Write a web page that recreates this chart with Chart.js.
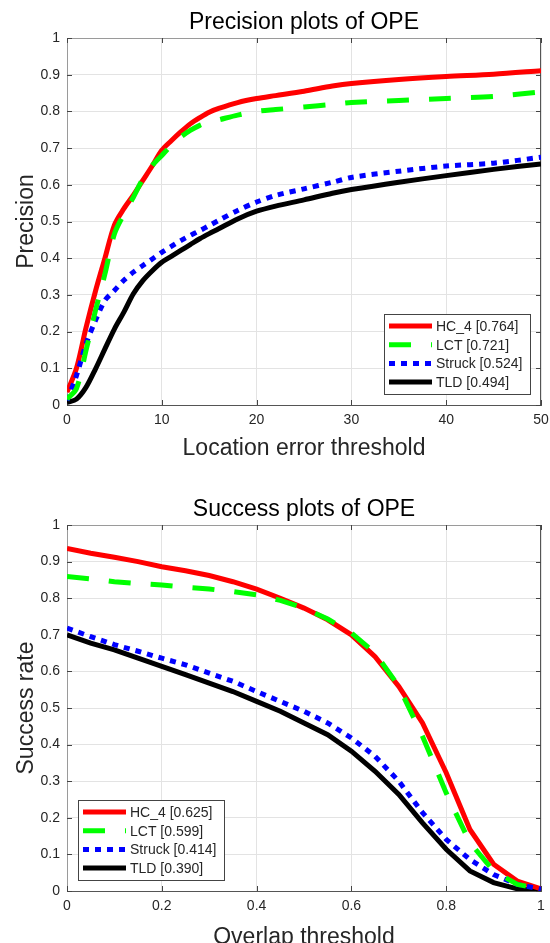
<!DOCTYPE html>
<html>
<head>
<meta charset="utf-8">
<script src="https://cdn.jsdelivr.net/npm/chart.js@4.4.0/dist/chart.umd.min.js"></script>
<style>
    html, body { margin: 0; padding: 0; background: #fff; overflow: hidden; }
    .caja { position: absolute; left: 0; width: 550px; }
    #caja1 { top: 0; height: 470px; }
    #caja2 { top: 470px; height: 490px; }
</style>
</head>
<body>
<div class="caja" id="caja1"><canvas id="graficoPrecision"></canvas></div>
<div class="caja" id="caja2"><canvas id="graficoExito"></canvas></div>
<script>
// datos

// precision - umbral de error de ubicacion (px)
var umbralesError = [0, 1, 2, 3, 4, 5, 6, 7, 8, 9, 10, 11, 12, 13, 14, 15, 16, 18, 20, 22, 25, 28, 30, 35, 40, 45, 50];
var precisionHC4 = [0.035, 0.10, 0.21, 0.31, 0.40, 0.49, 0.535, 0.572, 0.612, 0.652, 0.694, 0.72, 0.744, 0.766, 0.783, 0.798, 0.808, 0.824, 0.835, 0.843, 0.855, 0.869, 0.876, 0.887, 0.895, 0.901, 0.911];
var precisionLCT = [0.016, 0.045, 0.148, 0.257, 0.357, 0.466, 0.52, 0.566, 0.616, 0.653, 0.68, 0.707, 0.73, 0.748, 0.762, 0.771, 0.777, 0.79, 0.80, 0.805, 0.812, 0.819, 0.824, 0.83, 0.835, 0.841, 0.853];
var precisionStruck = [0.012, 0.08, 0.166, 0.23, 0.285, 0.312, 0.34, 0.362, 0.38, 0.398, 0.416, 0.432, 0.448, 0.462, 0.475, 0.489, 0.503, 0.53, 0.553, 0.571, 0.589, 0.607, 0.62, 0.637, 0.651, 0.659, 0.675];
var precisionTLD = [0.007, 0.016, 0.048, 0.098, 0.153, 0.207, 0.253, 0.303, 0.339, 0.366, 0.389, 0.405, 0.421, 0.437, 0.453, 0.467, 0.48, 0.507, 0.528, 0.542, 0.559, 0.577, 0.587, 0.607, 0.625, 0.642, 0.657];
var etiquetasPrecision = ['HC_4 [0.764]', 'LCT [0.721]', 'Struck [0.524]', 'TLD [0.494]'];

// exito - umbral de solapamiento
var umbralesSolape = [0, 0.05, 0.1, 0.15, 0.2, 0.25, 0.3, 0.35, 0.4, 0.45, 0.5, 0.55, 0.6, 0.65, 0.7, 0.75, 0.8, 0.85, 0.9, 0.95, 1];
var exitoHC4 = [0.936, 0.923, 0.912, 0.9, 0.886, 0.875, 0.862, 0.845, 0.825, 0.80, 0.773, 0.741, 0.70, 0.64, 0.559, 0.459, 0.323, 0.168, 0.073, 0.027, 0.006];
var exitoLCT = [0.859, 0.853, 0.845, 0.84, 0.836, 0.83, 0.825, 0.818, 0.809, 0.794, 0.773, 0.743, 0.705, 0.65, 0.559, 0.423, 0.268, 0.132, 0.055, 0.018, 0.005];
var exitoStruck = [0.718, 0.695, 0.673, 0.655, 0.636, 0.618, 0.595, 0.573, 0.545, 0.518, 0.491, 0.459, 0.418, 0.368, 0.30, 0.214, 0.141, 0.086, 0.045, 0.018, 0.005];
var exitoTLD = [0.70, 0.677, 0.659, 0.636, 0.614, 0.591, 0.568, 0.545, 0.518, 0.491, 0.459, 0.427, 0.382, 0.327, 0.264, 0.186, 0.114, 0.055, 0.023, 0.006, 0.0];
var etiquetasExito = ['HC_4 [0.625]', 'LCT [0.599]', 'Struck [0.414]', 'TLD [0.390]'];

var fuente = "'Liberation Sans', Arial, sans-serif";
var colorTexto = '#262626';

function puntos(xs, ys) {
    return xs.map(function (x, i) {
        return {x: x, y: ys[i]};
    });
}

// estilo de cada metodo (rojo solido, verde rayado, azul punteado, negro)
function series(xs, valores, etiquetas, tension) {
    var estilos = [
        {color: '#ff0000', dash: [], orden: 3},
        {color: '#00ff00', dash: [22, 20], orden: 1},
        {color: '#0000ff', dash: [6, 6], orden: 2},
        {color: '#000000', dash: [], orden: 4}
    ];
    return valores.map(function (v, i) {
        return {
            label: etiquetas[i],
            data: puntos(xs, v),
            borderColor: estilos[i].color,
            backgroundColor: estilos[i].color,
            borderDash: estilos[i].dash,
            borderWidth: 5,
            pointRadius: 0,
            fill: false,
            tension: tension,
            order: estilos[i].orden
        };
    });
}

// marco tipo matlab: borde superior/derecho, marcas internas, titulo y leyenda
var estiloMatlab = {
    id: 'estiloMatlab',
    beforeDatasetsDraw: function (chart) {
        var c = chart.ctx, a = chart.chartArea;
        c.save();
        c.lineWidth = 1;
        c.strokeStyle = '#9a9a9a';
        c.beginPath();
        c.moveTo(a.left, a.top + 0.5);
        c.lineTo(a.right, a.top + 0.5);
        c.stroke();
        c.strokeStyle = '#555555';
        c.beginPath();
        c.moveTo(a.right - 0.5, a.top);
        c.lineTo(a.right - 0.5, a.bottom);
        c.stroke();
        // marcas hacia adentro
        c.strokeStyle = '#444444';
        var largo = 5;
        chart.scales.x.ticks.forEach(function (t) {
            var px = Math.round(chart.scales.x.getPixelForValue(t.value)) + 0.5;
            c.beginPath();
            c.moveTo(px, a.bottom);
            c.lineTo(px, a.bottom - largo);
            c.moveTo(px, a.top);
            c.lineTo(px, a.top + largo);
            c.stroke();
        });
        chart.scales.y.ticks.forEach(function (t) {
            var py = Math.round(chart.scales.y.getPixelForValue(t.value)) + 0.5;
            c.beginPath();
            c.moveTo(a.left, py);
            c.lineTo(a.left + largo, py);
            c.moveTo(a.right, py);
            c.lineTo(a.right - largo, py);
            c.stroke();
        });
        c.restore();
    },
    afterDraw: function (chart, args, opts) {
        var c = chart.ctx, a = chart.chartArea;
        c.save();
        // titulo centrado sobre el area del grafico
        c.fillStyle = '#000';
        c.font = '23px ' + fuente;
        c.textAlign = 'center';
        c.textBaseline = 'alphabetic';
        c.fillText(opts.titulo, (a.left + a.right) / 2, a.top - 9);

        // caja de la leyenda
        var ancho = 146, alto = 80, margen = 11;
        var bx = opts.esquina === 'izquierda' ? a.left + margen : a.right - margen - ancho;
        var by = a.bottom - margen - alto;
        c.fillStyle = '#fff';
        c.fillRect(bx, by, ancho, alto);
        c.lineWidth = 1;
        c.strokeStyle = '#444';
        c.strokeRect(bx + 0.5, by + 0.5, ancho, alto);
        c.font = '14px ' + fuente;
        c.textAlign = 'left';
        c.textBaseline = 'middle';
        chart.data.datasets.forEach(function (ds, i) {
            var fy = by + 12 + i * 18.7;
            c.strokeStyle = ds.borderColor;
            c.lineWidth = ds.borderWidth;
            c.setLineDash(ds.borderDash);
            c.lineCap = 'butt';
            c.beginPath();
            c.moveTo(bx + 5, fy);
            c.lineTo(bx + 48, fy);
            c.stroke();
            c.setLineDash([]);
            c.fillStyle = colorTexto;
            c.fillText(ds.label, bx + 52, fy + 1);
        });
        c.restore();
    }
};

function etiquetaTick(valor) {
    return String(+valor.toFixed(2));
}

function opciones(titulo, esquina, xMax, xPaso, xTitulo, yTitulo, altoX, tituloPad, topPad) {
    return {
        responsive: true,
        maintainAspectRatio: false,
        animation: false,
        layout: {
            padding: {top: topPad, right: 9, left: 0, bottom: 0}
        },
        plugins: {
            legend: {display: false},
            tooltip: {enabled: false},
            estiloMatlab: {titulo: titulo, esquina: esquina}
        },
        scales: {
            x: {
                type: 'linear',
                min: 0,
                max: xMax,
                ticks: {
                    stepSize: xPaso,
                    color: colorTexto,
                    font: {size: 14, family: fuente},
                    padding: 7,
                    maxRotation: 0,
                    callback: etiquetaTick
                },
                grid: {color: '#e3e3e3', drawTicks: false},
                border: {color: '#555555'},
                title: {
                    display: true,
                    text: xTitulo,
                    color: colorTexto,
                    font: {size: 23, family: fuente},
                    padding: {top: 0, bottom: tituloPad}
                },
                afterFit: function (s) {
                    s.height = altoX;
                    s.paddingLeft = 0;
                    s.paddingRight = 0;
                }
            },
            y: {
                min: 0,
                max: 1,
                ticks: {
                    stepSize: 0.1,
                    color: colorTexto,
                    font: {size: 14, family: fuente},
                    padding: 7,
                    callback: etiquetaTick
                },
                grid: {color: '#e3e3e3', drawTicks: false},
                border: {color: '#9a9a9a'},
                title: {
                    display: true,
                    text: yTitulo,
                    color: colorTexto,
                    font: {size: 23, family: fuente},
                    padding: {top: 13, bottom: 0}
                },
                afterFit: function (s) {
                    s.width = 67;
                    s.paddingTop = 0;
                    s.paddingBottom = 0;
                }
            }
        }
    };
}

// grafico de precision
new Chart(document.getElementById('graficoPrecision').getContext('2d'), {
    type: 'line',
    data: {
        datasets: series(umbralesError, [precisionHC4, precisionLCT, precisionStruck, precisionTLD], etiquetasPrecision, 0.3)
    },
    options: opciones('Precision plots of OPE', 'derecha', 50, 10, 'Location error threshold', 'Precision', 65, 8, 38),
    plugins: [estiloMatlab]
});

// grafico de exito
new Chart(document.getElementById('graficoExito').getContext('2d'), {
    type: 'line',
    data: {
        datasets: series(umbralesSolape, [exitoHC4, exitoLCT, exitoStruck, exitoTLD], etiquetasExito, 0)
    },
    options: opciones('Success plots of OPE', 'izquierda', 1, 0.2, 'Overlap threshold', 'Success rate', 69, 9, 55),
    plugins: [estiloMatlab]
});
</script>
</body>
</html>
